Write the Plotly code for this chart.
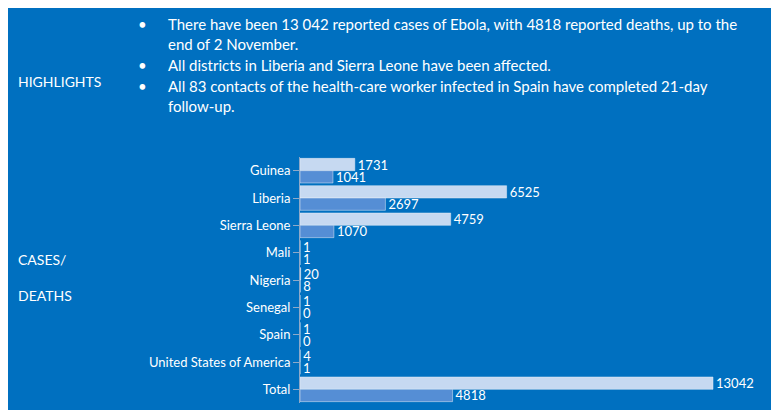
import plotly.graph_objects as go

countries = ["Guinea", "Liberia", "Sierra Leone", "Mali", "Nigeria", "Senegal",
             "Spain", "United States of America", "Total"]
cases = [1731, 6525, 4759, 1, 20, 1, 1, 4, 13042]
deaths = [1041, 2697, 1070, 1, 8, 0, 0, 1, 4818]

bullets = [
    "There have been 13 042 reported cases of Ebola, with 4818 reported deaths, up to the<br>end of 2 November.",
    "All districts in Liberia and Sierra Leone have been affected.",
    "All 83 contacts of the health-care worker infected in Spain have completed 21-day<br>follow-up.",
]
bullet_y = [16, 57, 78]

bg = "#0070C0"
font = "Lato, Open Sans, sans-serif"

# plot area in pixels, used to place free text in paper coords
L, R, T, B = 292, 779, 149, 395


def px(x):
    return (x - L) / (R - L)


def py(y):
    return (B - y) / (B - T)


fig = go.Figure()
fig.add_trace(go.Bar(y=countries, x=cases, orientation="h", marker_color="#C6D9F1",
                     text=cases, textposition="outside", cliponaxis=False, constraintext="none",
                     textfont=dict(color="white", size=13)))
fig.add_trace(go.Bar(y=countries, x=deaths, orientation="h", marker_color="#558ED5",
                     text=deaths, textposition="outside", cliponaxis=False, constraintext="none",
                     textfont=dict(color="white", size=13)))

fig.update_layout(
    width=779, height=410, paper_bgcolor=bg, plot_bgcolor=bg,
    margin=dict(l=L, r=0, t=T, b=410 - B),
    barmode="group", bargap=0.1, bargroupgap=0, showlegend=False,
    font=dict(family=font, color="white", size=13),
    xaxis=dict(visible=False, range=[0, 15379]),
    yaxis=dict(autorange="reversed", showline=True, linecolor="#8FA9C8", linewidth=1,
               ticks="outside", tickcolor="#8FA9C8", ticklen=6, showgrid=False,
               tickfont=dict(size=13, color="white")),
)

for text, y in zip(bullets, bullet_y):
    fig.add_annotation(x=px(128), y=py(y), xref="paper", yref="paper",
                       text="•", showarrow=False, xanchor="left", yanchor="middle",
                       font=dict(size=15, color="white"))
    fig.add_annotation(x=px(158), y=py(y - 11), xref="paper", yref="paper",
                       text=text, showarrow=False, xanchor="left", yanchor="top", align="left",
                       font=dict(size=15, color="white"))

fig.add_annotation(x=px(8), y=py(63), xref="paper", yref="paper", text="HIGHLIGHTS",
                   showarrow=False, xanchor="left", font=dict(size=14, color="white"))
fig.add_annotation(x=px(8), y=py(269), xref="paper", yref="paper",
                   text="CASES/<br><br>DEATHS", showarrow=False, xanchor="left", align="left",
                   font=dict(size=14, color="white"))

fig.write_html("out.html")
